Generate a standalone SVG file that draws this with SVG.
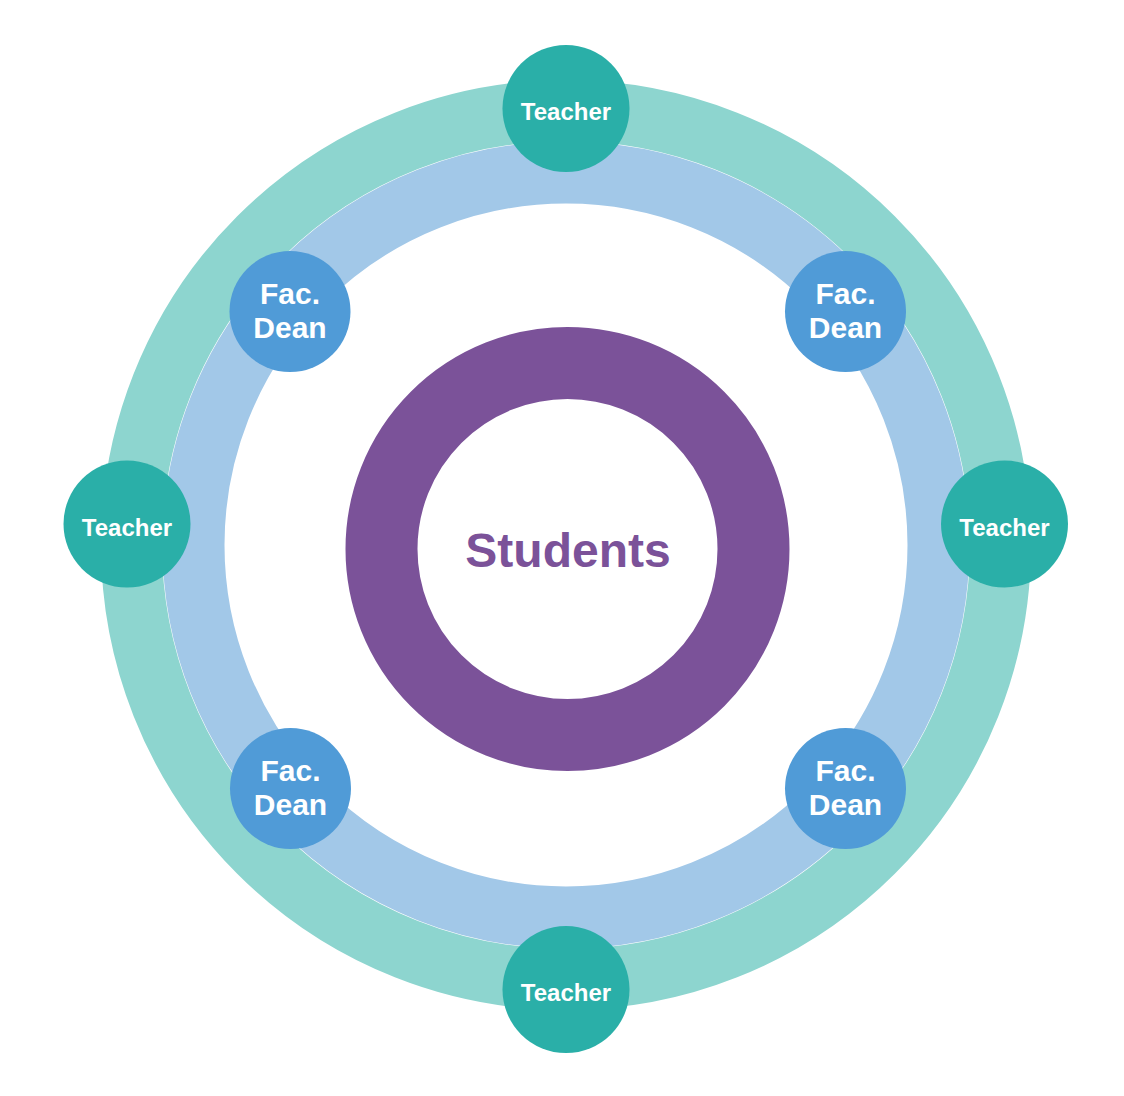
<svg xmlns="http://www.w3.org/2000/svg" width="1124" height="1096" viewBox="0 0 1124 1096">
<style>
.ring{fill:none}
.teacher circle{fill:#2AAFA8}
.dean circle{fill:#509BD7}
.lbl{font-family:"Liberation Sans",Arial,Helvetica,sans-serif;font-weight:bold;fill:#ffffff;text-anchor:middle}
.t{font-size:24px}
.d{font-size:30px}
</style>
<rect width="1124" height="1096" fill="#ffffff"/>
<g id="rings">
<circle class="ring" cx="566" cy="545" r="434.5" stroke="#8DD5CF" stroke-width="61"/>
<circle class="ring" cx="566" cy="545" r="372.5" stroke="#A2C8E8" stroke-width="62"/>
</g>
<g id="connectors"></g>
<g id="students">
<circle cx="567.5" cy="549" r="186" fill="none" stroke="#7B5299" stroke-width="72"/>
<text x="568" y="567" font-family="'Liberation Sans',Arial,Helvetica,sans-serif" font-weight="bold" font-size="48" fill="#7B5299" text-anchor="middle">Students</text>
</g>
<g id="dean-tl" class="dean"><circle cx="290" cy="311.5" r="60.5"/><text class="lbl d" x="290" y="303.5">Fac.</text><text class="lbl d" x="290" y="337.5">Dean</text></g>
<g id="dean-tr" class="dean"><circle cx="845.5" cy="311.5" r="60.5"/><text class="lbl d" x="845.5" y="303.5">Fac.</text><text class="lbl d" x="845.5" y="337.5">Dean</text></g>
<g id="dean-bl" class="dean"><circle cx="290.5" cy="788.5" r="60.5"/><text class="lbl d" x="290.5" y="780.5">Fac.</text><text class="lbl d" x="290.5" y="814.5">Dean</text></g>
<g id="dean-br" class="dean"><circle cx="845.5" cy="788.5" r="60.5"/><text class="lbl d" x="845.5" y="780.5">Fac.</text><text class="lbl d" x="845.5" y="814.5">Dean</text></g>
<g id="teacher-top" class="teacher"><circle cx="566" cy="108.5" r="63.5"/><text class="lbl t" x="566" y="120">Teacher</text></g>
<g id="teacher-left" class="teacher"><circle cx="127" cy="524" r="63.5"/><text class="lbl t" x="127" y="535.5">Teacher</text></g>
<g id="teacher-right" class="teacher"><circle cx="1004.5" cy="524" r="63.5"/><text class="lbl t" x="1004.5" y="535.5">Teacher</text></g>
<g id="teacher-bottom" class="teacher"><circle cx="566" cy="989.5" r="63.5"/><text class="lbl t" x="566" y="1001">Teacher</text></g>
</svg>
